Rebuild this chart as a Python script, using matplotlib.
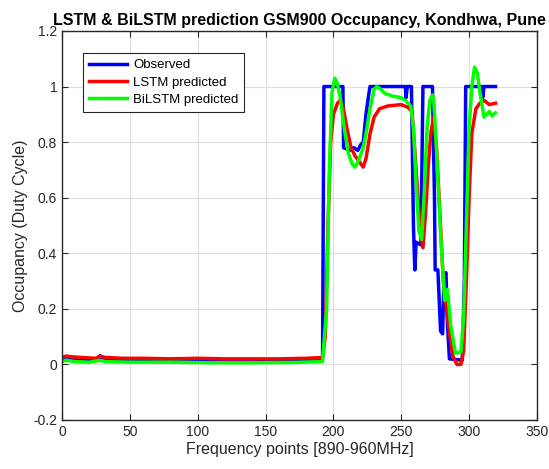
import matplotlib
matplotlib.use("Agg")
import matplotlib.pyplot as plt
from matplotlib.ticker import FuncFormatter

# observed occupancy (breakpoints)
obs_x = [0, 3, 10, 20, 27, 28, 30, 35, 50, 70, 90, 110, 130, 150, 170, 190, 192, 193,
         207, 207.5, 212, 215, 218, 220, 222, 224, 226, 227, 253, 253.5, 254.5, 257.5,
         259, 260, 261, 264.5, 266, 273, 274.5, 275, 277, 279, 280.5, 281.5, 283, 284,
         285.5, 295, 296.5, 297.5, 309.5, 310, 311, 319.5]
obs_y = [0.02, 0.025, 0.02, 0.018, 0.02, 0.032, 0.018, 0.015, 0.015, 0.013, 0.014, 0.013,
         0.012, 0.012, 0.012, 0.013, 0.02, 1.0,
         1.0, 0.78, 0.77, 0.78, 0.77, 0.79, 0.8, 0.9, 0.97, 1.0, 1.0, 0.96, 1.0, 1.0,
         0.5, 0.34, 0.44, 0.43, 1.0, 1.0, 0.6, 0.34, 0.34, 0.12, 0.11, 0.32, 0.33, 0.15,
         0.02, 0.015, 0.3, 1.0, 1.0, 0.96, 1.0, 1.0]

lstm_x = [0, 3, 8, 15, 25, 28, 32, 45, 60, 80, 100, 120, 140, 160, 180, 192, 194, 196,
          198, 200, 203, 205, 207, 210, 213, 216, 219, 222, 224, 227, 230, 234, 240, 250,
          255, 258, 261, 264, 266, 268, 270, 272, 274, 276, 278, 281, 284, 288, 291, 294,
          296, 298, 300, 302, 305, 308, 311, 315, 319.5]
lstm_y = [0.025, 0.03, 0.027, 0.025, 0.022, 0.03, 0.025, 0.022, 0.022, 0.02, 0.022, 0.02,
          0.02, 0.02, 0.022, 0.025, 0.1, 0.5, 0.8, 0.9, 0.94, 0.95, 0.93, 0.85, 0.78, 0.75,
          0.73, 0.71, 0.74, 0.83, 0.89, 0.92, 0.93, 0.935, 0.925, 0.91, 0.7, 0.48, 0.42,
          0.55, 0.72, 0.84, 0.89, 0.78, 0.59, 0.3, 0.17, 0.03, 0.0, 0.0, 0.05, 0.3, 0.6,
          0.83, 0.92, 0.94, 0.95, 0.935, 0.94]

bilstm_x = [0, 3, 10, 20, 28, 32, 50, 80, 110, 140, 170, 192, 195, 197, 199, 201, 203,
            205, 208, 211, 214, 216, 219, 222, 224, 227, 230, 232, 235, 238, 244, 250, 253,
            257, 259, 261, 263, 265, 267, 269, 271, 273, 274, 276, 279, 282, 284, 286.5,
            290, 294, 296, 298, 300, 302, 304, 306, 308, 311, 313, 315, 317, 319.5]
bilstm_y = [0.01, 0.015, 0.01, 0.008, 0.015, 0.01, 0.008, 0.008, 0.006, 0.006, 0.007,
            0.01, 0.2, 0.7, 0.98, 1.03, 1.01, 0.96, 0.85, 0.76, 0.72, 0.71, 0.74, 0.78,
            0.83, 0.92, 0.99, 1.0, 0.99, 0.975, 0.965, 0.96, 0.95, 0.93, 0.85, 0.65, 0.48,
            0.45, 0.62, 0.85, 0.95, 0.97, 0.95, 0.77, 0.47, 0.23, 0.27, 0.14, 0.04, 0.045,
            0.17, 0.5, 0.85, 1.0, 1.07, 1.05, 0.98, 0.89, 0.9, 0.91, 0.895, 0.905]

plt.rcParams['font.family'] = ['Liberation Sans', 'DejaVu Sans']

fig = plt.figure(figsize=(5.49, 4.69), dpi=100)
ax = fig.add_axes([0.113, 0.1045, 0.865, 0.8295])

ax.plot(obs_x, obs_y, color=(0, 0, 1), lw=2.5, label='Observed')
ax.plot(lstm_x, lstm_y, color=(1, 0, 0), lw=2.5, label='LSTM predicted')
ax.plot(bilstm_x, bilstm_y, color=(0, 1, 0), lw=2.5, label='BiLSTM predicted')

ax.set_xlim(0, 350)
ax.set_ylim(-0.2, 1.2)
ax.set_xticks(range(0, 351, 50))
ax.set_yticks([-0.2, 0, 0.2, 0.4, 0.6, 0.8, 1.0, 1.2])
ax.yaxis.set_major_formatter(FuncFormatter(lambda v, p: f'{v:g}'))
ax.tick_params(direction='in', top=True, right=True, labelsize=10, length=4,
               colors='0.15')
ax.grid(True, color='0.87', lw=0.8)
for s in ax.spines.values():
    s.set_color('0.15')
    s.set_linewidth(1.0)

ax.set_title('LSTM & BiLSTM prediction GSM900 Occupancy, Kondhwa, Pune',
             fontsize=11.5, fontweight='bold', pad=4)
ax.set_xlabel('Frequency points [890-960MHz]', fontsize=11.5, color='0.15', labelpad=2)
ax.set_ylabel('Occupancy (Duty Cycle)', fontsize=11.5, color='0.15', labelpad=4)

leg = ax.legend(loc='upper left', bbox_to_anchor=(0.044, 0.943), borderaxespad=0,
                fontsize=9.5, handlelength=2.9, fancybox=False, framealpha=1,
                edgecolor='0.15', borderpad=0.45, labelspacing=0.38, handletextpad=0.45)
leg.get_frame().set_linewidth(0.8)

fig.savefig('out.png', dpi=100)
